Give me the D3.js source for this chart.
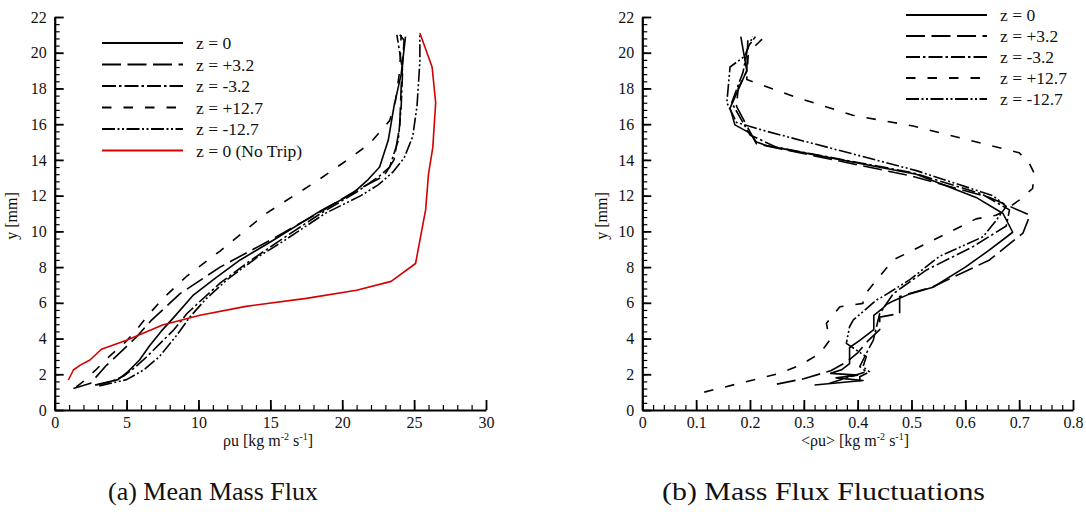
<!DOCTYPE html>
<html>
<head>
<meta charset="utf-8">
<script src="https://cdn.jsdelivr.net/npm/d3@7"></script>
<style>
  html, body { margin: 0; padding: 0; background: #fff; }
  svg { display: block; }
</style>
</head>
<body>
<svg id="chart" width="1086" height="512"></svg>
<script>
// ---- Panel (a): mean mass flux profiles, [rho*u, y] ----
const meanZ0 = [[2.8,1.4],[4.4,1.7],[5.1,2.15],[5.9,2.8],[6.6,3.6],[7.4,4.4],[8.3,5.2],[9.6,6.4],[11.2,7.4],[12.9,8.4],[15.2,9.5],[18.6,11.2],[20.7,12.1],[21.8,12.9],[22.6,13.6],[23.2,15.1],[23.6,17.0],[24.1,18.8],[24.4,20.9]];
const meanZp32 = [[1.3,1.2],[2.5,1.5],[3.6,2.5],[4.4,3.1],[5.7,4.1],[6.7,5.0],[8.7,6.5],[11.5,8.0],[15.2,9.6],[18.5,11.1],[21.0,12.3],[22.9,13.1],[23.6,14.0],[24.0,15.9],[24.1,18.1],[24.3,20.7],[24.0,21.0]];
const meanZm32 = [[2.9,1.4],[4.0,1.6],[4.8,1.9],[5.6,2.4],[6.3,2.9],[7.3,3.7],[8.3,4.5],[9.2,5.4],[10.0,6.0],[11.5,7.1],[13.5,8.3],[15.5,9.4],[18.5,11.0],[21.0,12.2],[22.6,13.1],[23.3,13.6],[23.9,15.1],[24.1,17.0],[24.2,19.0],[23.8,21.0]];
const meanZp127 = [[1.5,1.3],[2.0,1.6],[2.8,2.2],[3.8,3.0],[4.8,3.7],[5.6,4.4],[6.6,5.4],[7.6,6.3],[9.2,7.5],[11.5,8.9],[14.7,11.0],[18.2,12.8],[20.0,13.8],[21.9,14.9],[23.3,16.2],[23.7,17.3],[24.0,19.0],[24.1,21.0]];
const meanZm127 = [[3.1,1.35],[5.0,1.7],[6.2,2.25],[7.3,3.0],[8.5,4.2],[9.4,5.2],[10.5,6.2],[12.0,7.3],[14.0,8.5],[16.0,9.5],[18.8,11.0],[21.3,12.0],[22.5,12.6],[23.5,13.3],[24.3,14.1],[24.9,15.3],[25.2,17.0],[25.4,19.5],[25.4,21.0]];
const meanNoTrip = [[0.95,1.68],[1.3,2.24],[1.75,2.5],[2.45,2.8],[3.25,3.4],[5.0,3.9],[7.5,4.76],[10.1,5.3],[13.3,5.8],[17.5,6.25],[21.0,6.7],[23.4,7.2],[25.1,8.2],[25.8,11.2],[26.0,13.2],[26.3,14.7],[26.5,17.2],[26.25,19.2],[25.4,21.1]];

// ---- Panel (b): mass flux fluctuations, [<rho*u>, y] ----
const flucZ0 = [[0.32,1.4],[0.41,1.65],[0.36,1.8],[0.40,1.95],[0.35,2.05],[0.37,2.25],[0.385,2.6],[0.385,3.5],[0.404,3.9],[0.43,4.5],[0.43,5.3],[0.447,5.7],[0.453,5.9],[0.466,6.1],[0.497,6.5],[0.54,6.87],[0.60,8.0],[0.645,8.96],[0.688,9.95],[0.67,11.0],[0.62,11.9],[0.509,13.2],[0.231,14.8],[0.212,15.0],[0.2,15.5],[0.172,15.96],[0.163,16.9],[0.194,19.0],[0.183,20.9]];
const flucZp32 = [[0.25,1.45],[0.30,1.75],[0.35,2.2],[0.38,2.7],[0.40,3.2],[0.42,3.9],[0.441,4.5],[0.441,5.2],[0.478,5.4],[0.478,6.35],[0.54,6.9],[0.645,8.4],[0.707,9.9],[0.72,10.9],[0.645,11.9],[0.50,13.1],[0.212,14.9],[0.175,17.0],[0.178,18.0],[0.194,18.95],[0.196,20.7]];
const flucZm32 = [[0.348,1.5],[0.416,2.14],[0.404,2.43],[0.416,3.17],[0.429,3.9],[0.435,4.66],[0.441,5.4],[0.466,6.5],[0.484,6.9],[0.528,7.84],[0.614,9.14],[0.676,10.3],[0.682,11.2],[0.63,12.1],[0.50,13.3],[0.25,14.7],[0.2,15.4],[0.166,17.2],[0.187,18.9],[0.196,20.3],[0.21,20.9]];
const flucZp127 = [[0.115,1.0],[0.255,2.05],[0.293,2.5],[0.33,3.17],[0.348,3.9],[0.342,4.85],[0.367,5.78],[0.41,5.97],[0.41,6.35],[0.466,8.4],[0.54,9.5],[0.62,10.7],[0.657,10.9],[0.67,11.1],[0.70,11.75],[0.725,12.4],[0.728,13.25],[0.719,13.8],[0.70,14.4],[0.608,15.1],[0.503,15.9],[0.391,16.5],[0.286,17.5],[0.194,18.5],[0.197,20.0],[0.237,21.2]];
const flucZm127 = [[0.404,1.6],[0.404,1.86],[0.422,2.14],[0.41,2.42],[0.416,2.98],[0.379,3.73],[0.385,4.66],[0.392,5.04],[0.435,6.16],[0.447,6.35],[0.497,7.3],[0.552,8.6],[0.633,9.7],[0.657,10.6],[0.676,11.4],[0.651,12.0],[0.509,13.4],[0.231,15.6],[0.175,16.1],[0.157,17.2],[0.163,19.2],[0.19,19.8],[0.205,20.9]];

// Legend labels and axis ticks
const legendLabelsA = ["z = 0", "z = +3.2", "z = -3.2", "z = +12.7", "z = -12.7", "z = 0 (No Trip)"];
const legendLabelsB = ["z = 0", "z = +3.2", "z = -3.2", "z = +12.7", "z = -12.7"];
const xTicksA = [0, 5, 10, 15, 20, 25, 30];
const xTicksB = [0, 0.1, 0.2, 0.3, 0.4, 0.5, 0.6, 0.7, 0.8];
const yTicks = [0, 2, 4, 6, 8, 10, 12, 14, 16, 18, 20, 22];

// Line styles per series
const styles = [
  { stroke: "#000", dash: null },
  { stroke: "#000", dash: "19,6.5" },
  { stroke: "#000", dash: "14,3,2.5,3" },
  { stroke: "#000", dash: "9.5,12" },
  { stroke: "#000", dash: "13,2.5,2,2.5,2,2.5" },
  { stroke: "#d40000", dash: null }
];

const FONT = '"Liberation Serif", "Times New Roman", serif';
const svg = d3.select("#chart");

function panel(cfg) {
  const x = d3.scaleLinear().domain(cfg.xDomain).range(cfg.xRange);
  const y = d3.scaleLinear().domain([0, 22]).range([410, 17]);
  const g = svg.append("g");

  // minor ticks
  const xMinor = d3.range(cfg.xDomain[0], cfg.xDomain[1] + 1e-9, cfg.xMinorStep);
  const yMinor = d3.range(0, 22 + 1e-9, 0.4);
  g.append("g").attr("transform", "translate(0,410)")
    .call(d3.axisBottom(x).tickValues(xMinor).tickSize(-5).tickSizeOuter(0).tickFormat(""))
    .call(a => a.select(".domain").remove())
    .call(a => a.selectAll("line").attr("stroke-width", 1.2));
  g.append("g").attr("transform", `translate(${cfg.xRange[0]},0)`)
    .call(d3.axisLeft(y).tickValues(yMinor).tickSize(-5).tickSizeOuter(0).tickFormat(""))
    .call(a => a.select(".domain").remove())
    .call(a => a.selectAll("line").attr("stroke-width", 1.2));

  // major ticks + labels
  g.append("g").attr("transform", "translate(0,410)")
    .call(d3.axisBottom(x).tickValues(cfg.xTicks).tickSize(-10).tickSizeOuter(0)
      .tickPadding(7).tickFormat(cfg.xFormat))
    .call(a => a.select(".domain").attr("stroke-width", 2.2))
    .call(a => a.selectAll("line").attr("stroke-width", 1.8))
    .call(a => a.selectAll("text").attr("font-size", 16).attr("fill", "#111")
      .style("font-family", FONT));
  g.append("g").attr("transform", `translate(${cfg.xRange[0]},0)`)
    .call(d3.axisLeft(y).tickValues(yTicks).tickSize(-9).tickSizeOuter(0).tickPadding(8))
    .call(a => a.select(".domain").attr("stroke-width", 2.2))
    .call(a => a.selectAll("line").attr("stroke-width", 1.8))
    .call(a => a.selectAll("text").attr("font-size", 16).attr("fill", "#111")
      .style("font-family", FONT));

  // curves
  const line = d3.line().x(d => x(d[0])).y(d => y(d[1]));
  cfg.series.forEach((s, i) => {
    g.append("path").datum(s)
      .attr("fill", "none")
      .attr("stroke", styles[i].stroke)
      .attr("stroke-width", 1.6)
      .attr("stroke-dasharray", styles[i].dash)
      .attr("stroke-linejoin", "round")
      .attr("d", line);
  });

  // legend
  cfg.legend.forEach((lab, i) => {
    const ly = cfg.legendY + i * cfg.legendStep;
    g.append("line")
      .attr("x1", cfg.legendX).attr("x2", cfg.legendX + 81)
      .attr("y1", ly).attr("y2", ly)
      .attr("stroke", styles[i].stroke).attr("stroke-width", 1.8)
      .attr("stroke-dasharray", styles[i].dash);
    g.append("text").attr("x", cfg.legendX + 94).attr("y", ly + 6)
      .style("font-family", FONT)
      .attr("font-size", 17.5).attr("fill", "#111").text(lab);
  });

  // axis titles
  const xt = g.append("text").attr("x", cfg.xTitleX).attr("y", 446)
    .style("font-family", FONT)
    .attr("text-anchor", "middle").attr("font-size", 16).attr("fill", "#111");
  xt.append("tspan").text(cfg.xTitlePre + " [kg m");
  xt.append("tspan").attr("dy", -6).attr("font-size", 10).text("-2");
  xt.append("tspan").attr("dy", 6).text(" s");
  xt.append("tspan").attr("dy", -6).attr("font-size", 10).text("-1");
  xt.append("tspan").attr("dy", 6).text("]");

  g.append("text")
    .attr("transform", `translate(${cfg.yTitleX},216) rotate(-90)`)
    .style("font-family", FONT)
    .attr("text-anchor", "middle").attr("font-size", 16).attr("fill", "#111")
    .text("y [mm]");

  svg.append("text").attr("x", cfg.captionX).attr("y", 500)
    .style("font-family", FONT)
    .attr("font-size", 25).attr("fill", "#111")
    .attr("textLength", cfg.captionW).attr("lengthAdjust", "spacingAndGlyphs")
    .text(cfg.caption);
}

panel({
  xDomain: [0, 30], xRange: [54.7, 486], xMinorStep: 1, xTicks: xTicksA,
  xFormat: d3.format("d"),
  series: [meanZ0, meanZp32, meanZm32, meanZp127, meanZm127, meanNoTrip],
  legend: legendLabelsA, legendX: 102, legendY: 43, legendStep: 21.5,
  xTitleX: 268, xTitlePre: "ρu", yTitleX: 17,
  caption: "(a) Mean Mass Flux", captionX: 108, captionW: 210
});

panel({
  xDomain: [0, 0.8], xRange: [642.3, 1073], xMinorStep: 0.02, xTicks: xTicksB,
  xFormat: d => d === 0 ? "0" : d3.format(".1f")(d),
  series: [flucZ0, flucZp32, flucZm32, flucZp127, flucZm127],
  legend: legendLabelsB, legendX: 906, legendY: 15, legendStep: 21,
  xTitleX: 855, xTitlePre: "<ρu>", yTitleX: 607,
  caption: "(b) Mass Flux Fluctuations", captionX: 662, captionW: 323
});
</script>
</body>
</html>
